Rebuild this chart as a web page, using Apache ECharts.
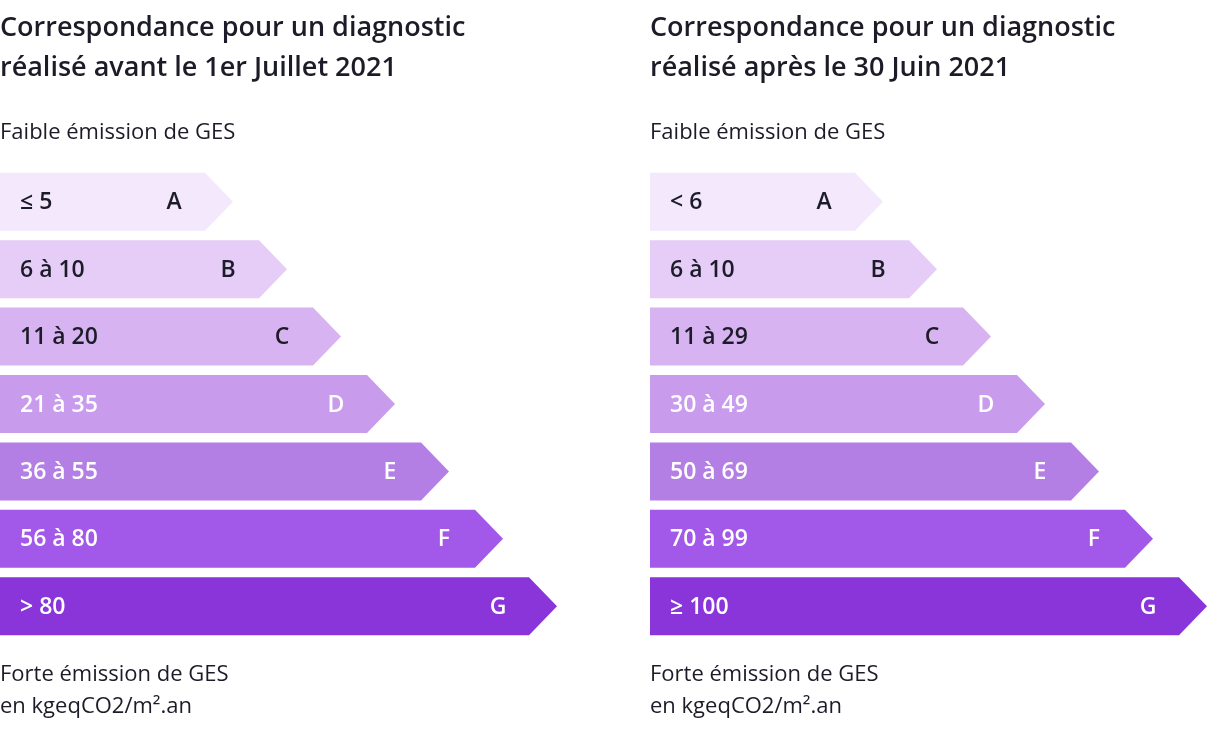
<!DOCTYPE html>
<html lang="fr">
<head>
<meta charset="UTF-8">
<title>GES</title>
<script src="https://cdn.jsdelivr.net/npm/echarts@6/dist/echarts.min.js"></script>
<style>body{margin:0;background:#fff}</style>
</head>
<body>
<div id="main" style="width:1208px;height:736px;"></div>
<script>
// classes, drawn lengths of the arrow bodies, and range labels
const letters = ['A', 'B', 'C', 'D', 'E', 'F', 'G'];
const lengths = [205, 259, 313, 367, 421, 475, 529];
const rangesBefore = ['≤ 5', '6 à 10', '11 à 20', '21 à 35', '36 à 55', '56 à 80', '> 80'];
const rangesAfter = ['< 6', '6 à 10', '11 à 29', '30 à 49', '50 à 69', '70 à 99', '≥ 100'];
const colors = ['#f3e8fc', '#e5cdf8', '#d7b3f1', '#c99bed', '#b47fe5', '#a258e8', '#8935d9'];
const textColors = ['#1c1c28', '#1c1c28', '#1c1c28', '#fff', '#fff', '#fff', '#fff'];
const FONT = '"Open Sans", "Noto Sans", sans-serif';

function renderArrow(ranges) {
  return function (params, api) {
    const i = params.dataIndex;
    const start = api.coord([0, i]);
    const end = api.coord([api.value(0), i]);
    const h = 58, tip = 28;
    const y0 = start[1] - h / 2, y1 = start[1] + h / 2;
    return {
      type: 'group',
      children: [{
        type: 'polygon',
        shape: { points: [[start[0], y0], [end[0], y0], [end[0] + tip, start[1]], [end[0], y1], [start[0], y1]] },
        style: { fill: colors[i] }
      }, {
        type: 'text',
        x: start[0] + 20, y: start[1] + 1,
        style: { text: ranges[i], fill: textColors[i], font: '600 23px ' + FONT, verticalAlign: 'middle' }
      }, {
        type: 'text',
        x: end[0] - 31, y: start[1] + 1,
        style: { text: letters[i], fill: textColors[i], font: '600 23px ' + FONT, verticalAlign: 'middle', align: 'center' }
      }]
    };
  };
}

const grids = [{ left: 0, top: 168, width: 550, height: 472 }, { left: 650, top: 168, width: 550, height: 472 }];
const txt = (x, y, t, size, weight) => ({
  type: 'text', left: x, top: y,
  style: { text: t, font: (weight || 400) + ' ' + size + 'px ' + FONT, fill: '#1c1c28' }
});

const options = {
  animation: false,
  grid: grids,
  xAxis: [0, 1].map(g => ({ gridIndex: g, type: 'value', min: 0, max: 550, show: false })),
  yAxis: [0, 1].map(g => ({ gridIndex: g, type: 'category', data: letters, inverse: true, show: false })),
  series: [rangesBefore, rangesAfter].map((r, g) => ({
    type: 'custom', xAxisIndex: g, yAxisIndex: g,
    renderItem: renderArrow(r),
    data: lengths.map(v => [v])
  })),
  graphic: [
    txt(0, 15, 'Correspondance pour un diagnostic', 27, 600),
    txt(0, 55, 'réalisé avant le 1er Juillet 2021', 27, 600),
    txt(650, 15, 'Correspondance pour un diagnostic', 27, 600),
    txt(650, 55, 'réalisé après le 30 Juin 2021', 27, 600),
    txt(0, 122, 'Faible émission de GES', 22),
    txt(650, 122, 'Faible émission de GES', 22),
    txt(0, 664, 'Forte émission de GES', 22),
    txt(0, 696, 'en kgeqCO2/m².an', 22),
    txt(650, 664, 'Forte émission de GES', 22),
    txt(650, 696, 'en kgeqCO2/m².an', 22)
  ]
};

const myChart = echarts.init(document.getElementById('main'));
myChart.setOption(options);
</script>
</body>
</html>
